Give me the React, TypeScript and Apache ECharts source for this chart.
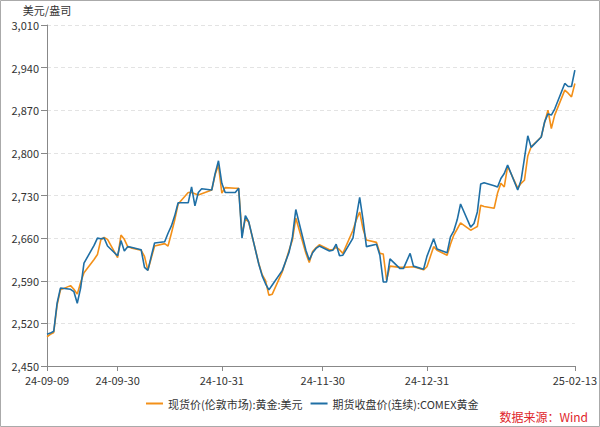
import React, { useEffect, useRef } from "react";
import * as echarts from "echarts";

const dates: string[] = [
  "2024-09-09","2024-09-10","2024-09-11","2024-09-12","2024-09-13","2024-09-16","2024-09-17","2024-09-18","2024-09-19","2024-09-20","2024-09-23","2024-09-24","2024-09-25","2024-09-26","2024-09-27","2024-09-30",
  "2024-10-01","2024-10-02","2024-10-03","2024-10-04","2024-10-07","2024-10-08","2024-10-09","2024-10-10","2024-10-11","2024-10-14","2024-10-15","2024-10-16","2024-10-17","2024-10-18","2024-10-21","2024-10-22","2024-10-23","2024-10-24","2024-10-25","2024-10-28","2024-10-29","2024-10-30","2024-10-31",
  "2024-11-01","2024-11-04","2024-11-05","2024-11-06","2024-11-07","2024-11-08","2024-11-11","2024-11-12","2024-11-13","2024-11-14","2024-11-15","2024-11-18","2024-11-19","2024-11-20","2024-11-21","2024-11-22","2024-11-25","2024-11-26","2024-11-27","2024-11-28","2024-11-29",
  "2024-12-02","2024-12-03","2024-12-04","2024-12-05","2024-12-06","2024-12-09","2024-12-10","2024-12-11","2024-12-12","2024-12-13","2024-12-16","2024-12-17","2024-12-18","2024-12-19","2024-12-20","2024-12-23","2024-12-24","2024-12-26","2024-12-27","2024-12-30","2024-12-31",
  "2025-01-02","2025-01-03","2025-01-06","2025-01-07","2025-01-08","2025-01-09","2025-01-10","2025-01-13","2025-01-14","2025-01-15","2025-01-16","2025-01-17","2025-01-20","2025-01-21","2025-01-22","2025-01-23","2025-01-24","2025-01-27","2025-01-28","2025-01-29","2025-01-30","2025-01-31",
  "2025-02-03","2025-02-04","2025-02-05","2025-02-06","2025-02-07","2025-02-10","2025-02-11","2025-02-12","2025-02-13",
];

// 现货价(伦敦市场):黄金:美元
const spotLondon: (number | null)[] = [
  2498,2502,2505,2550,2575,2582,2576,2568,2587,2603,2625,2633,2657,2661,2658,2628,
  2665,2658,2646,2644,2640,2630,2607,2627,2647,2651,2647,2668,2690,2716,2735,2735,2733,2731,2733,2739,2764,2780,2734,
  2743,2742,2742,2666,2692,2686,2618,2600,2590,2566,2568,2605,2622,2640,2657,2693,2635,2620,2638,2644,2649,
  2641,2641,2645,2641,2635,2673,2690,2703,2675,2657,2653,2635,2634,2591,2614,2612,2612,null,2613,2608,2613,
  2646,2640,2632,2650,2665,2675,2685,2673,2676,2679,2714,2712,2709,2734,2750,2744,2778,2742,2750,2755,2795,2810,
  2826,2850,2870,2840,2862,2903,2898,2892,2914,
];

// 期货收盘价(连续):COMEX黄金
const comexClose: (number | null)[] = [
  2502,2504,2507,2553,2578,2576,2572,2553,2578,2619,2648,2660,2659,2660,2647,2631,
  2656,2639,2646,2645,2641,2612,2607,2630,2652,2654,2668,2680,2697,2718,2718,2744,2713,2735,2741,2739,2766,2787,2750,
  2735,2735,2742,2660,2697,2687,2617,2598,2585,2575,2583,2607,2622,2637,2662,2707,2640,2624,2636,2643,2647,
  2639,2640,2650,2631,2632,2660,2695,2727,2690,2646,2650,2632,2588,2588,2626,2610,2610,2635,2614,2609,2630,
  2659,2642,2636,2662,2672,2690,2716,2678,2684,2703,2749,2751,2746,2744,2758,2766,2780,2739,2755,2791,2828,2809,
  2826,2851,2864,2862,2872,2914,2909,2909,2936,
];

const xTickDates: string[] = ["2024-09-09", "2024-09-30", "2024-10-31", "2024-11-30", "2024-12-31", "2025-02-13"];
const seriesNames: string[] = ["现货价(伦敦市场):黄金:美元", "期货收盘价(连续):COMEX黄金"];
const yMin = 2450;
const yMax = 3010;
const yStep = 70;

const DAY = 86400000;
const ts = (s: string) => {
  const [y, m, d] = s.split("-").map(Number);
  return Date.UTC(y, m - 1, d);
};
const T0 = ts(dates[0]);
const dayNum = (s: string) => Math.round((ts(s) - T0) / DAY);
const pad = (n: number) => (n < 10 ? "0" + n : "" + n);
const fmtDay = (v: number) => {
  const d = new Date(T0 + Math.round(v) * DAY);
  return `${pad(d.getUTCFullYear() % 100)}-${pad(d.getUTCMonth() + 1)}-${pad(d.getUTCDate())}`;
};

const FONT = "'Noto Sans CJK SC', 'Noto Sans', sans-serif";

export default function App() {
  const ref = useRef<HTMLDivElement>(null);
  useEffect(() => {
    if (!ref.current) return;
    const chart = echarts.init(ref.current, undefined, { renderer: "svg" });
    const tickVals = xTickDates.map(dayNum);
    chart.setOption({
      animation: false,
      backgroundColor: "#ffffff",
      textStyle: { fontFamily: FONT },
      grid: { left: 47, right: 24, top: 25, bottom: 61 },
      legend: {
        top: 393,
        left: 141,
        itemGap: 8,
        itemWidth: 17,
        itemHeight: 2,
        icon: "rect",
        textStyle: { fontSize: 11, color: "#333", fontFamily: FONT },
        data: seriesNames,
      },
      xAxis: {
        type: "value",
        min: 0,
        max: dayNum(dates[dates.length - 1]),
        axisLine: { show: true, onZero: false, lineStyle: { color: "#888", width: 1 } },
        axisTick: { show: true, customValues: tickVals, length: 5, lineStyle: { color: "#888" } },
        axisLabel: {
          customValues: tickVals,
          formatter: (v: number) => fmtDay(v),
          fontSize: 11,
          color: "#333",
          fontFamily: FONT,
          margin: 8,
          showMinLabel: true,
          showMaxLabel: true,
        },
        splitLine: { show: false },
      },
      yAxis: {
        type: "value",
        min: yMin,
        max: yMax,
        interval: yStep,
        name: "美元/盎司",
        nameLocation: "end",
        nameGap: 10,
        nameTextStyle: { fontSize: 11, color: "#333", fontFamily: FONT, align: "center" },
        axisLine: { show: true, lineStyle: { color: "#888", width: 1 } },
        axisTick: { show: true, length: 6, lineStyle: { color: "#888" } },
        axisLabel: {
          fontSize: 11,
          color: "#333",
          fontFamily: FONT,
          margin: 8,
          formatter: (v: number) => v.toLocaleString("en-US"),
        },
        splitLine: { show: true, lineStyle: { color: "#e3e3e3", type: [4, 3], width: 1 } },
      },
      series: [
        {
          name: seriesNames[0],
          type: "line",
          data: dates.map((d, i) => [dayNum(d), spotLondon[i]]),
          showSymbol: false,
          symbol: "none",
          connectNulls: true,
          lineStyle: { color: "#F39019", width: 1.6 },
          itemStyle: { color: "#F39019" },
        },
        {
          name: seriesNames[1],
          type: "line",
          data: dates.map((d, i) => [dayNum(d), comexClose[i]]),
          showSymbol: false,
          symbol: "none",
          connectNulls: true,
          lineStyle: { color: "#1F6FA5", width: 1.6 },
          itemStyle: { color: "#1F6FA5" },
        },
      ],
      graphic: [
        {
          type: "rect",
          shape: { x: 0.5, y: 0.5, width: 599, height: 426 },
          style: { fill: "none", stroke: "#aaaaaa", lineWidth: 1 },
          silent: true,
          z: 100,
        },
        {
          type: "text",
          right: 12,
          top: 410,
          style: { text: "数据来源：Wind", fill: "#E0262B", fontSize: 12, fontFamily: FONT },
        },
      ],
    });
    return () => chart.dispose();
  }, []);
  return (
    <div
      ref={ref}
      style={{ position: "fixed", left: 0, top: 0, width: 600, height: 427 }}
    />
  );
}
